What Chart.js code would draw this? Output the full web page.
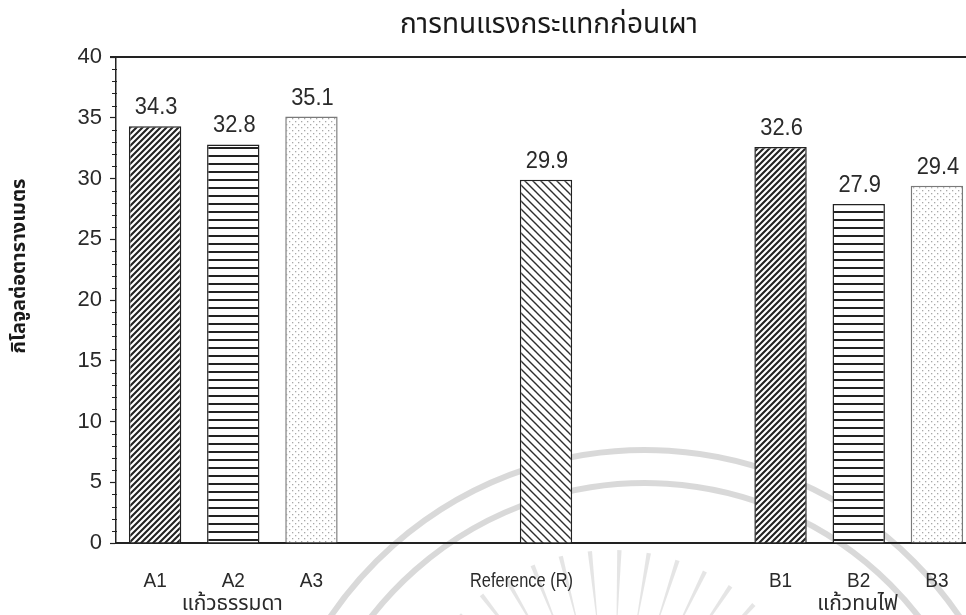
<!DOCTYPE html>
<html>
<head>
<meta charset="utf-8">
<title>การทนแรงกระแทกก่อนเผา</title>
<script src="https://cdn.jsdelivr.net/npm/chart.js@4.4.1/dist/chart.umd.min.js"></script>
<style>
  html, body { margin: 0; padding: 0; background: #fff; overflow: hidden; }
  #wrap { width: 1000px; height: 615px; }
</style>
</head>
<body>
<div id="wrap"><canvas id="chart" width="1000" height="615"></canvas></div>
<script>
// ---- data ----
const categories = ['A1', 'A2', 'A3', '', '', 'Reference (R)', '', '', 'B1', 'B2', 'B3'];
const strength = [34.3, 32.8, 35.1, null, null, 29.9, null, null, 32.6, 27.9, 29.4];
const chartTitle = 'การทนแรงกระแทกก่อนเผา';
const yAxisTitle = 'กิโลจูลต่อตารางเมตร';
const groupNames = ['แก้วธรรมดา', 'แก้วทนไฟ'];
const groupAnchors = ['A2', 'B2'];
const yMin = 0, yMax = 40, yMajorStep = 5, yMinorStep = 1;

// ---- fill patterns for each bar ----
const barFills = ['slash', 'lines', 'dots', null, null, 'backslash', null, null, 'slash', 'lines', 'dots'];

function makePattern(kind) {
  const c = document.createElement('canvas');
  const g = c.getContext('2d');
  let s = 6;
  if (kind === 'backslash') s = 8;
  if (kind === 'lines') s = 8;
  c.width = s; c.height = s;
  g.fillStyle = '#fff';
  g.fillRect(0, 0, s, s);
  if (kind === 'slash') {
    g.strokeStyle = '#222'; g.lineWidth = 2.1;
    g.beginPath();
    g.moveTo(-1, s + 1); g.lineTo(s + 1, -1);
    g.moveTo(-1, 1); g.lineTo(1, -1);
    g.moveTo(s - 1, s + 1); g.lineTo(s + 1, s - 1);
    g.stroke();
  } else if (kind === 'backslash') {
    g.strokeStyle = '#2e2e2e'; g.lineWidth = 1.4;
    g.beginPath();
    g.moveTo(-1, -1); g.lineTo(s + 1, s + 1);
    g.moveTo(s - 1, -1); g.lineTo(s + 1, 1);
    g.moveTo(-1, s - 1); g.lineTo(1, s + 1);
    g.stroke();
  } else if (kind === 'lines') {
    g.fillStyle = '#222';
    g.fillRect(0, 3, s, 2);
  } else if (kind === 'dots') {
    g.fillStyle = '#a8a8a8';
    g.fillRect(1, 1, 1.3, 1.3);
    g.fillRect(4, 4, 1.3, 1.3);
  }
  return g.createPattern(c, 'repeat');
}

const ctx = document.getElementById('chart').getContext('2d');
const fills = barFills.map(k => (k ? makePattern(k) : 'rgba(0,0,0,0)'));
const borders = barFills.map(k => (k === 'dots' ? '#7a7a7a' : '#222'));

const NUM_FONT = '"Liberation Sans", Arial, sans-serif';
const THAI_FONT = '"Noto Sans Thai", "Noto Sans", "DejaVu Sans", sans-serif';

// draws text squeezed horizontally around its anchor point
function narrowText(g, text, x, y, squeeze, align) {
  g.save();
  g.translate(x, y);
  g.scale(squeeze, 1);
  g.textAlign = align;
  g.fillText(text, 0, 0);
  g.restore();
}

// faint emblem printed behind the plot
const emblem = {
  id: 'emblem',
  beforeDraw(chart) {
    const g = chart.ctx;
    g.save();
    g.fillStyle = '#fff';
    g.fillRect(0, 0, chart.width, chart.height);
    g.strokeStyle = 'rgba(0,0,0,0.15)';
    g.lineWidth = 6;
    const cx = 645, cy = 830;
    [380, 347].forEach(r => {
      g.beginPath();
      g.arc(cx, cy, r, Math.PI * 1.02, Math.PI * 1.98);
      g.stroke();
    });
    // rays
    const rx = 612, ry = 762;
    g.fillStyle = 'rgba(0,0,0,0.10)';
    for (let a = -152; a <= -28; a += 8) {
      const t = a * Math.PI / 180;
      const r0 = 140, r1 = 212;
      const w0 = 0.4, w1 = 2.2;
      const ux = Math.cos(t), uy = Math.sin(t);
      const px = -uy, py = ux;
      g.beginPath();
      g.moveTo(rx + ux * r0 + px * w0, ry + uy * r0 + py * w0);
      g.lineTo(rx + ux * r1 + px * w1, ry + uy * r1 + py * w1);
      g.lineTo(rx + ux * r1 - px * w1, ry + uy * r1 - py * w1);
      g.lineTo(rx + ux * r0 - px * w0, ry + uy * r0 - py * w0);
      g.closePath();
      g.fill();
    }
    g.restore();
  }
};

// frame line, minor ticks, texts
const decorations = {
  id: 'decorations',
  afterDraw(chart) {
    const g = chart.ctx;
    const x = chart.scales.x, y = chart.scales.y;
    const area = chart.chartArea;
    g.save();
    // top frame line at the axis maximum
    g.strokeStyle = '#222';
    g.lineWidth = 2;
    const yTop = y.getPixelForValue(yMax);
    g.beginPath();
    g.moveTo(area.left - 6, yTop);
    g.lineTo(chart.width, yTop);
    g.stroke();
    // minor ticks
    g.lineWidth = 1;
    for (let v = yMin; v <= yMax; v += yMinorStep) {
      if (v % yMajorStep === 0) continue;
      const py = Math.round(y.getPixelForValue(v)) + 0.5;
      g.beginPath();
      g.moveTo(area.left - 4, py);
      g.lineTo(area.left + 1, py);
      g.stroke();
    }
    // category labels
    const base = y.getPixelForValue(yMin);
    g.fillStyle = '#2a2a2a';
    g.font = '20px ' + NUM_FONT;
    g.textBaseline = 'alphabetic';
    categories.forEach((c, i) => {
      if (!c) return;
      const px = x.getPixelForValue(i);
      if (c.length > 3) {
        narrowText(g, c, px + 27, base + 44, 0.82, 'right');
      } else {
        narrowText(g, c, px, base + 44, 0.95, 'center');
      }
    });
    // group names
    g.font = '21px ' + THAI_FONT;
    groupNames.forEach((n, k) => {
      const i = categories.indexOf(groupAnchors[k]);
      narrowText(g, n, x.getPixelForValue(i) - 1, base + 67, 1, 'center');
    });
    // value labels
    const meta = chart.getDatasetMeta(0);
    g.font = '23px ' + NUM_FONT;
    g.fillStyle = '#2a2a2a';
    meta.data.forEach((bar, i) => {
      const v = strength[i];
      if (v == null) return;
      narrowText(g, v.toFixed(1), bar.x + 1, bar.y - 12, 0.95, 'center');
    });
    // title
    g.font = '28px ' + THAI_FONT;
    g.textBaseline = 'middle';
    g.fillStyle = '#1a1a1a';
    g.textAlign = 'center';
    g.fillText(chartTitle, (area.left + area.right) / 2 + 3, 27);
    // y axis title
    g.translate(21, 266);
    g.rotate(-Math.PI / 2);
    g.font = 'bold 20px ' + THAI_FONT;
    g.fillText(yAxisTitle, 0, 0);
    g.restore();
  }
};

new Chart(ctx, {
  type: 'bar',
  data: {
    labels: categories,
    datasets: [{
      data: strength,
      backgroundColor: fills,
      borderColor: borders,
      borderWidth: 1.5,
      borderSkipped: 'start',
      categoryPercentage: 1,
      barPercentage: 0.67
    }]
  },
  options: {
    responsive: false,
    animation: false,
    layout: { padding: { top: 57, left: 76, right: 24, bottom: 72 } },
    plugins: {
      legend: { display: false },
      tooltip: { enabled: false },
      title: { display: false }
    },
    scales: {
      x: {
        type: 'category',
        offset: true,
        grid: { display: false, drawTicks: false },
        border: { display: true, color: '#222', width: 2 },
        ticks: { display: false }
      },
      y: {
        min: yMin,
        max: yMax,
        afterFit(scale) { scale.width = 40; },
        border: { display: true, color: '#222', width: 1.5 },
        grid: { display: true, drawOnChartArea: false, drawTicks: true, tickLength: 6, color: '#222', tickWidth: 1.2 },
        ticks: {
          stepSize: yMajorStep,
          color: '#2a2a2a',
          padding: 8,
          font: { family: NUM_FONT, size: 22 }
        }
      }
    }
  },
  plugins: [emblem, decorations]
});
</script>
</body>
</html>
